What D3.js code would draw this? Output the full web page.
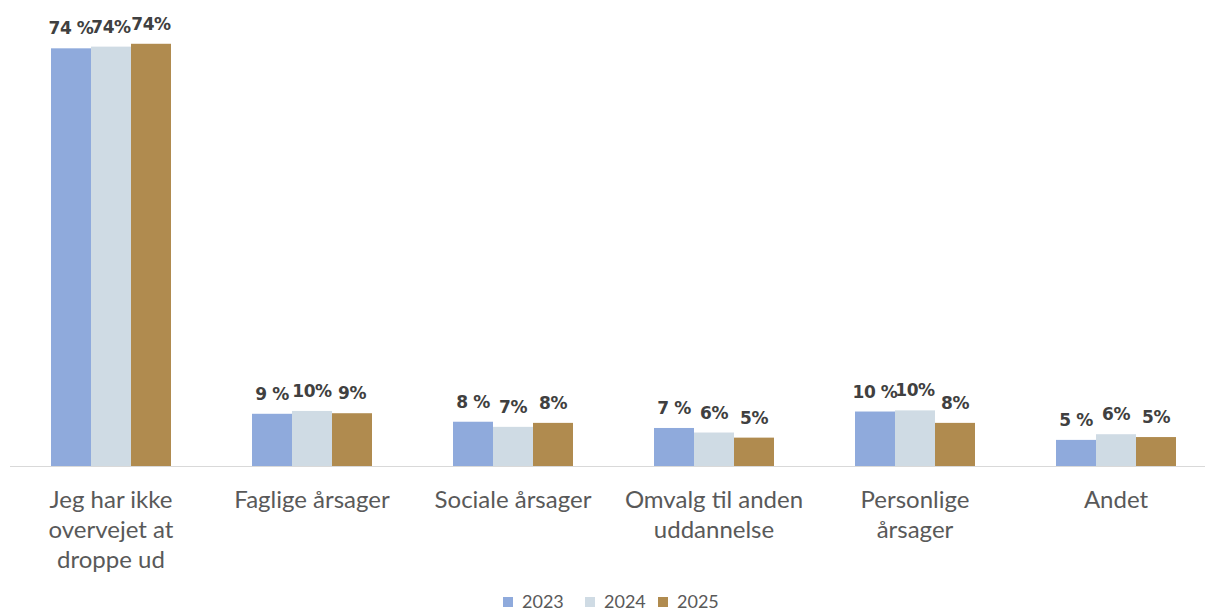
<!DOCTYPE html>
<html>
<head>
<meta charset="utf-8">
<script src="https://cdn.jsdelivr.net/npm/d3@7"></script>
<style>
  body { margin: 0; background: #fff; }
  svg { display: block; }
</style>
</head>
<body>
<div id="chart"></div>
<script>
var categories = [
    ["Jeg har ikke", "overvejet at", "droppe ud"],
    ["Faglige årsager"],
    ["Sociale årsager"],
    ["Omvalg til anden", "uddannelse"],
    ["Personlige", "årsager"],
    ["Andet"]
];
var years = ["2023", "2024", "2025"];
var v2023 = [73.6, 9.2, 7.8, 6.7, 9.6, 4.6];
var v2024 = [73.9, 9.7, 6.9, 5.9, 9.8, 5.6];
var v2025 = [74.4, 9.3, 7.6, 5.0, 7.6, 5.1];
// 2023 labels have a space before the percent sign
var labelFormats = ["d %", "d%", "d%"];
var colors = ["#8faadc", "#cfdbe4", "#b08b4f"];

var width = 1205, height = 613;
var baseY = 466;

var svg = d3.select("#chart").append("svg")
    .attr("width", width)
    .attr("height", height);

var x = d3.scaleBand()
    .domain(d3.range(categories.length))
    .range([10.5, 1216.5]);

var xs = d3.scaleBand()
    .domain(years)
    .range([40.5, 160.5]);

var y = d3.scaleLinear()
    .domain([0, 80])
    .range([baseY, 12]);

var series = years.map(function (yr, i) {
    var vals = [v2023, v2024, v2025][i];
    return vals.map(function (v, j) {
        return { year: yr, idx: i, cat: j, value: v };
    });
});

// baseline
svg.append("line")
    .attr("x1", 10).attr("x2", 1205)
    .attr("y1", baseY + 0.5).attr("y2", baseY + 0.5)
    .attr("stroke", "#d9d9d9")
    .attr("stroke-width", 1);

var groups = svg.selectAll(".series")
    .data(series).enter()
    .append("g")
    .attr("class", "series");

groups.selectAll("rect")
    .data(function (d) { return d; }).enter()
    .append("rect")
    .attr("x", function (d) { return x(d.cat) + xs(d.year); })
    .attr("y", function (d) { return y(d.value); })
    .attr("width", xs.bandwidth())
    .attr("height", function (d) { return baseY - y(d.value); })
    .attr("fill", function (d) { return colors[d.idx]; });

groups.selectAll("text")
    .data(function (d) { return d; }).enter()
    .append("text")
    .attr("x", function (d) { return x(d.cat) + xs(d.year) + xs.bandwidth() / 2; })
    .attr("y", function (d) { return y(d.value) - 14; })
    .attr("text-anchor", "middle")
    .style("font-family", "'DejaVu Sans', sans-serif")
    .style("font-weight", "bold")
    .style("font-size", "17px")
    .style("letter-spacing", "-0.4px")
    .attr("fill", "#404040")
    .text(function (d) {
        return labelFormats[d.idx].replace("d", Math.round(d.value));
    });

// category labels
var cat = svg.selectAll(".cat")
    .data(categories).enter()
    .append("text")
    .attr("class", "cat")
    .attr("text-anchor", "middle")
    .style("font-family", "Lato, sans-serif")
    .style("font-size", "24px")
    .attr("fill", "#595959");

cat.selectAll("tspan")
    .data(function (d, i) { return d.map(function (t) { return { t: t, i: i }; }); }).enter()
    .append("tspan")
    .attr("x", function (d) { return x(d.i) + x.bandwidth() / 2; })
    .attr("y", function (d, k) { return 508 + k * 30; })
    .text(function (d) { return d.t; });

// legend
var legendX = [503, 585, 658];
var legend = svg.selectAll(".legend")
    .data(years).enter()
    .append("g")
    .attr("class", "legend")
    .attr("transform", function (d, i) { return "translate(" + legendX[i] + ",0)"; });

legend.append("rect")
    .attr("x", 0).attr("y", 597)
    .attr("width", 10).attr("height", 10)
    .attr("fill", function (d, i) { return colors[i]; });

legend.append("text")
    .attr("x", 19).attr("y", 608)
    .style("font-family", "Lato, sans-serif")
    .style("font-size", "18px")
    .attr("fill", "#595959")
    .text(function (d) { return d; });
</script>
</body>
</html>
